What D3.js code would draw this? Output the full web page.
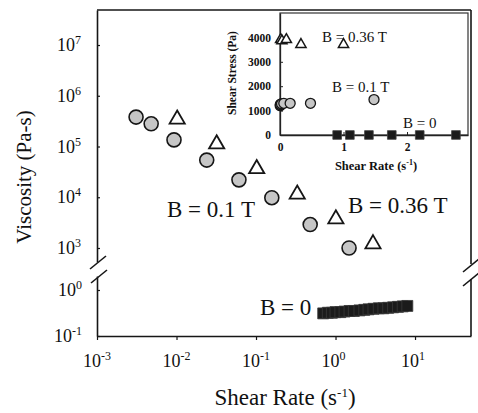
<!DOCTYPE html>
<html>
<head>
<meta charset="utf-8">
<script src="https://cdn.jsdelivr.net/npm/d3@7"></script>
<style>
  body { margin: 0; background: #fff; }
  text { font-family: "Liberation Serif", "Times New Roman", serif; fill: #111; }
</style>
</head>
<body>
<script>
const width = 478;
const height = 413;

// viscosity vs shear rate, three field strengths
const rate01  = [0.0031, 0.0048, 0.0093, 0.024, 0.061, 0.158, 0.48, 1.48];
const visc01  = [3.8e5, 2.8e5, 1.35e5, 5.4e4, 2.2e4, 9.8e3, 2.9e3, 1.0e3];
const rate036 = [0.0102, 0.032, 0.102, 0.33, 1.01, 2.96];
const visc036 = [3.6e5, 1.17e5, 3.8e4, 1.2e4, 3.9e3, 1.26e3];
const rate0   = [0.7, 0.8, 0.9, 1.0, 1.15, 1.3, 1.5, 1.7, 2.0, 2.3, 2.6, 3.0, 3.5, 4.0, 4.6, 5.3, 6.1, 7.0, 8.0];
const visc0   = [0.31, 0.32, 0.32, 0.33, 0.33, 0.34, 0.35, 0.35, 0.36, 0.37, 0.38, 0.39, 0.40, 0.40, 0.41, 0.42, 0.43, 0.44, 0.45];

// inset: shear stress vs shear rate
const inRate036   = [0.01, 0.03, 0.1, 0.33, 1.0];
const inStress036 = [3950, 3900, 3950, 3750, 3750];
const inRate01    = [0.003, 0.005, 0.009, 0.024, 0.06, 0.16, 0.48, 1.48];
const inStress01  = [1200, 1250, 1250, 1280, 1300, 1300, 1300, 1450];
const inRate0     = [0.9, 1.1, 1.4, 1.76, 2.2, 2.77];
const inStress0   = [0.3, 0.4, 0.5, 0.6, 0.8, 1.2];

const xTicks   = [1e-3, 1e-2, 1e-1, 1e0, 1e1];
const yTicksHi = [1e3, 1e4, 1e5, 1e6, 1e7];
const yTicksLo = [1e-1, 1e0];
const inXTicks = [0, 1, 2];
const inYTicks = [0, 1000, 2000, 3000, 4000];

const svg = d3.select('body').append('svg')
    .attr('width', width)
    .attr('height', height);

svg.append('rect').attr('width', width).attr('height', height).attr('fill', '#fff');

// log x, y axis broken in two log segments
const x = d3.scaleLog().domain([1e-3, Math.pow(10, 1.704)]).range([97, 471]);
const yHi = d3.scaleLog().domain([Math.pow(10, 2.724), Math.pow(10, 7.69)]).range([262, 10]);
const yLo = d3.scaleLog().domain([0.1, Math.pow(10, 0.304)]).range([336, 276]);

const ink = '#161616';
const frame = svg.append('g').attr('stroke', ink).attr('stroke-width', 1.6);

function styleAxis(g) {
    g.selectAll('path').attr('stroke', ink).attr('stroke-width', 1.6);
    g.selectAll('line').attr('stroke', ink).attr('stroke-width', 1.2);
    g.selectAll('text').remove();
}

svg.append('g')
    .attr('transform', `translate(0,${yLo.range()[0]})`)
    .call(d3.axisBottom(x).tickValues(xTicks).tickSizeInner(4).tickSizeOuter(0))
    .call(styleAxis);
svg.append('g')
    .attr('transform', `translate(${x.range()[0]},0)`)
    .call(d3.axisLeft(yHi).tickValues(yTicksHi).tickSizeInner(-3).tickSizeOuter(0))
    .call(styleAxis);
svg.append('g')
    .attr('transform', `translate(${x.range()[0]},0)`)
    .call(d3.axisLeft(yLo).tickValues(yTicksLo).tickSizeInner(-3).tickSizeOuter(0))
    .call(styleAxis);

// top and right edges
const xl = x.range()[0], xr = x.range()[1];
frame.append('line').attr('x1', xl).attr('x2', xr).attr('y1', yHi.range()[1]).attr('y2', yHi.range()[1]);
frame.append('line').attr('x1', xr).attr('x2', xr).attr('y1', yHi.range()[1]).attr('y2', yHi.range()[0] + 2);
frame.append('line').attr('x1', xr).attr('x2', xr).attr('y1', yLo.range()[1] + 3).attr('y2', yLo.range()[0]);

// break marks
[[xl + 1, yHi.range()[0]], [xl + 2, yLo.range()[1]], [xr, yHi.range()[0] + 3], [xr, yLo.range()[1] + 3]].forEach(([cx, cy]) => {
    frame.append('line')
        .attr('x1', cx - 8).attr('y1', cy + 7)
        .attr('x2', cx + 8).attr('y2', cy - 6);
});

// power-of-ten labels
function pow10(sel, v) {
    const e = Math.round(Math.log10(v));
    sel.append('tspan').text('10');
    sel.append('tspan').attr('font-size', 12).attr('dy', -7).text(e);
}

xTicks.forEach(v => {
    svg.append('text')
        .attr('x', x(v) - 14).attr('y', 367)
        .attr('font-size', 18)
        .call(pow10, v);
});
yTicksHi.forEach(v => {
    svg.append('text')
        .attr('x', 81).attr('y', yHi(v) + 6)
        .attr('font-size', 18).attr('text-anchor', 'end')
        .call(pow10, v);
});
yTicksLo.forEach(v => {
    svg.append('text')
        .attr('x', 82).attr('y', yLo(v) + 6)
        .attr('font-size', 18).attr('text-anchor', 'end')
        .call(pow10, v);
});

// axis titles
const xTitle = svg.append('text')
    .attr('x', 285).attr('y', 405)
    .attr('font-size', 23).attr('text-anchor', 'middle');
xTitle.append('tspan').text('Shear Rate (s');
xTitle.append('tspan').attr('font-size', 13).attr('dy', -8).text('-1');
xTitle.append('tspan').attr('dy', 8).text(')');

svg.append('text')
    .attr('transform', 'translate(31,177) rotate(-90)')
    .attr('font-size', 21).attr('text-anchor', 'middle')
    .text('Viscosity (Pa-s)');

// markers
const tri = d3.symbol().type(d3.symbolTriangle);
const sq = d3.symbol().type(d3.symbolSquare);

svg.append('g').selectAll('path')
    .data(d3.zip(rate0, visc0))
    .join('path')
    .attr('transform', d => `translate(${x(d[0])},${yLo(d[1])})`)
    .attr('d', sq.size(120)())
    .attr('fill', '#1b1b1b')
    .attr('stroke', '#3a3a3a')
    .attr('stroke-width', 0.8);

svg.append('g').selectAll('circle')
    .data(d3.zip(rate01, visc01))
    .join('circle')
    .attr('cx', d => x(d[0]))
    .attr('cy', d => yHi(d[1]))
    .attr('r', 7)
    .attr('fill', '#c6c6c6')
    .attr('stroke', ink)
    .attr('stroke-width', 1.6);

svg.append('g').selectAll('path')
    .data(d3.zip(rate036, visc036))
    .join('path')
    .attr('transform', d => `translate(${x(d[0])},${yHi(d[1]) + 1})`)
    .attr('d', tri.size(100)())
    .attr('fill', '#fff')
    .attr('stroke', ink)
    .attr('stroke-width', 1.8);

// series labels
svg.append('text').attr('x', 167).attr('y', 217).attr('font-size', 23).text('B = 0.1 T');
svg.append('text').attr('x', 348).attr('y', 213).attr('font-size', 23).text('B = 0.36 T');
svg.append('text').attr('x', 260).attr('y', 315).attr('font-size', 23).text('B = 0');

// ---- inset ----
const ix = d3.scaleLinear().domain([0, 2.96]).range([280, 468]);
const iy = d3.scaleLinear().domain([0, 5000]).range([135, 13]);

svg.append('rect')
    .attr('x', ix.range()[0]).attr('y', iy.range()[1])
    .attr('width', ix.range()[1] - ix.range()[0])
    .attr('height', iy.range()[0] - iy.range()[1])
    .attr('fill', '#fff')
    .attr('stroke', '#333')
    .attr('stroke-width', 1.2);

function styleInset(g) {
    g.selectAll('path').attr('stroke', '#222').attr('stroke-width', 1.3);
    g.selectAll('line').attr('stroke', '#222');
    g.selectAll('text')
        .attr('font-size', 11.5)
        .attr('font-weight', 'bold')
        .attr('font-family', '"Liberation Serif", serif')
        .attr('fill', '#111');
}

svg.append('g')
    .attr('transform', `translate(0,${iy.range()[0]})`)
    .call(d3.axisBottom(ix).tickValues(inXTicks).tickSizeInner(-3).tickSizeOuter(0).tickPadding(8).tickFormat(d3.format('d')))
    .call(styleInset);
svg.append('g')
    .attr('transform', `translate(${ix.range()[0]},0)`)
    .call(d3.axisLeft(iy).tickValues(inYTicks).tickSizeInner(-3).tickSizeOuter(0).tickPadding(9).tickFormat(d3.format('d')))
    .call(styleInset);

const inXTitle = svg.append('text')
    .attr('x', 376).attr('y', 170)
    .attr('font-size', 12.5).attr('font-weight', 'bold').attr('text-anchor', 'middle');
inXTitle.append('tspan').text('Shear Rate (s');
inXTitle.append('tspan').attr('font-size', 8).attr('dy', -5).text('-1');
inXTitle.append('tspan').attr('dy', 5).text(')');

svg.append('text')
    .attr('transform', 'translate(236,73) rotate(-90)')
    .attr('font-size', 11.5).attr('font-weight', 'bold').attr('text-anchor', 'middle')
    .text('Shear Stress (Pa)');

svg.append('g').selectAll('path')
    .data(d3.zip(inRate0, inStress0))
    .join('path')
    .attr('transform', d => `translate(${ix(d[0])},${iy(d[1])})`)
    .attr('d', sq.size(75)())
    .attr('fill', '#1b1b1b')
    .attr('stroke', '#444')
    .attr('stroke-width', 0.8);

svg.append('g').selectAll('circle')
    .data(d3.zip(inRate01, inStress01))
    .join('circle')
    .attr('cx', d => ix(d[0]))
    .attr('cy', d => iy(d[1]))
    .attr('r', 5)
    .attr('fill', '#c6c6c6')
    .attr('stroke', ink)
    .attr('stroke-width', 1.3);

svg.append('g').selectAll('path')
    .data(d3.zip(inRate036, inStress036))
    .join('path')
    .attr('transform', d => `translate(${ix(d[0])},${iy(d[1]) + 1})`)
    .attr('d', tri.size(45)())
    .attr('fill', '#fff')
    .attr('stroke', ink)
    .attr('stroke-width', 1.5);

svg.append('text').attr('x', 322).attr('y', 42).attr('font-size', 15).text('B = 0.36 T');
svg.append('text').attr('x', 332).attr('y', 92).attr('font-size', 15).text('B = 0.1 T');
svg.append('text').attr('x', 403).attr('y', 128).attr('font-size', 15).text('B = 0');
</script>
</body>
</html>
